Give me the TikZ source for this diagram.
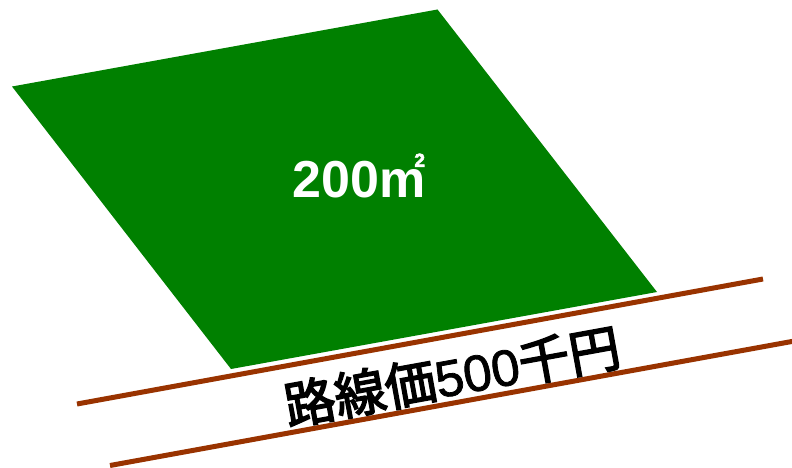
\documentclass[tikz,border=0pt]{standalone}
\usepackage{fontspec}
\setmainfont{Liberation Sans}
\newfontfamily\cjkm[FakeBold=3]{Noto Sans CJK JP}
\newfontfamily\digm[FakeBold=1.5]{Liberation Sans}
\newfontfamily\supb[FakeBold=3]{Liberation Sans Bold}
\definecolor{lotgreen}{RGB}{0,128,0}
\definecolor{roadbrown}{RGB}{153,51,0}
\tikzset{
  road/.style={draw=roadbrown, line width=5pt},
  lot/.style={fill=lotgreen, draw=none},
}
\begin{document}
\begin{tikzpicture}[x=1pt,y=-1pt]
\useasboundingbox (0,0) rectangle (792,468);
% lot
\coordinate (p1) at (12,86.5);
\coordinate (p2) at (437.5,9.5);
\coordinate (p3) at (657,292);
\coordinate (p4) at (231,369);
\fill[lot] (p1) -- (p2) -- (p3) -- (p4) -- cycle;
% road lines
\coordinate (r1a) at (77,404);
\coordinate (r1b) at (763,279);
\coordinate (r2a) at (110,465.5);
\coordinate (r2b) at (800,340);
\draw[road] (r1a) -- (r1b);
\draw[road] (r2a) -- (r2b);
% area label
\node[text=white, font=\fontsize{52}{52}\selectfont\bfseries, anchor=base, inner sep=0pt] (area) at (359,197)
  {200m\llap{\raisebox{0.58em}{\fontsize{19}{19}\selectfont\supb 2}\kern0.01em}};
% road label
\node[rotate=10.3, inner sep=0pt, font=\fontsize{51}{51}\selectfont] (price) at (452,376)
  {{\cjkm 路線価}{\digm 500}{\cjkm 千円}};
\end{tikzpicture}
\end{document}
